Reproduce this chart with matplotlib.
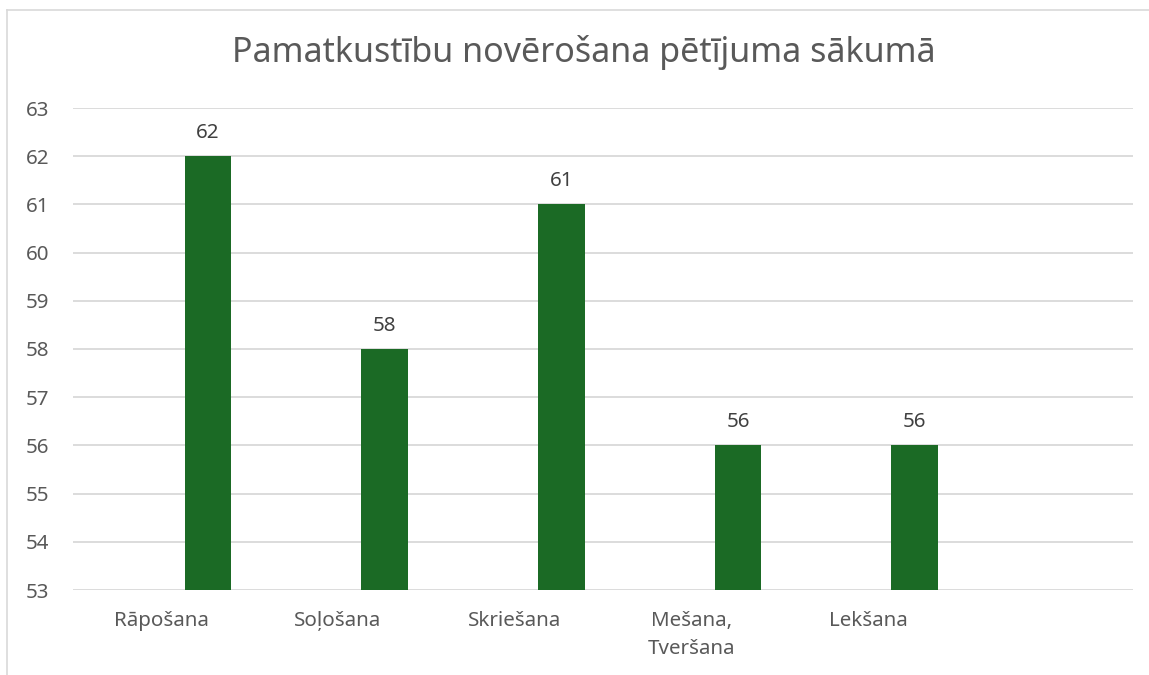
import matplotlib
matplotlib.use("Agg")
import matplotlib.pyplot as plt
from matplotlib.lines import Line2D
import numpy as np

plt.rcParams['font.family'] = ['Noto Sans', 'DejaVu Sans']

title = "Pamatkustību novērošana pētījuma sākumā"
categories = ["Rāpošana", "Soļošana", "Skriešana", "Mešana,\nTveršana", "Lekšana", ""]
values = [62, 58, 61, 56, 56]
yticks = list(range(53, 64))

W, H, DPI = 1149, 675, 100
fig = plt.figure(figsize=(W / DPI, H / DPI), dpi=DPI)
ax = fig.add_axes([73 / W, (H - 590) / H, (1133 - 73) / W, (590 - 108) / H])

text_color = "#595959"
bar_color = "#1B6A25"
grid_color = "#D9D9D9"

bw = 0.264
x = np.arange(len(values))
bars = ax.bar(x + bw, values, width=bw, bottom=0, color=bar_color, zorder=3)
for xi, v in zip(x, values):
    ax.text(xi + bw, v + 0.27, str(v), ha="center", va="bottom",
            fontsize=14.8, color="#404040", zorder=4)

ax.set_xlim(-0.5, len(categories) - 0.5)
ax.set_ylim(53, 63)
ax.set_yticks(yticks)
ax.set_yticklabels([str(t) for t in yticks])
ax.set_xticks(np.arange(len(categories)))
ax.set_xticklabels(categories, linespacing=1.55)
ax.tick_params(axis="y", length=0, pad=17, labelsize=14.8, labelcolor=text_color)
ax.tick_params(axis="x", length=0, pad=15, labelsize=14.8, labelcolor=text_color)
for t in ax.get_xticklabels():
    t.set_verticalalignment("top")
ax.grid(axis="y", color=grid_color, linewidth=1.3, zorder=0)
ax.set_axisbelow(True)
for s in ax.spines.values():
    s.set_visible(False)

fig.text(0.5 * (232 + 935) / W, 1 - 53 / H, title, ha="center", va="center",
         fontsize=24.5, color=text_color)

fig.add_artist(Line2D([7 / W, 7 / W], [0, 1 - 10 / H], color="#D9D9D9", linewidth=1.2))
fig.add_artist(Line2D([7 / W, 1], [1 - 10 / H, 1 - 10 / H], color="#D9D9D9", linewidth=1.2))

fig.savefig("out.png", dpi=DPI)
